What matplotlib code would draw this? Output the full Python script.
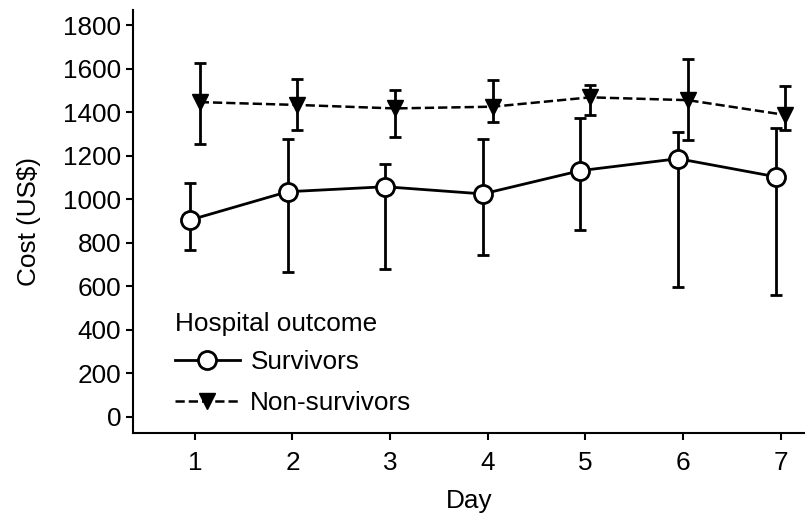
import numpy as np
from matplotlib import pyplot as plt

plt.rcParams['font.family'] = ['Liberation Sans', 'DejaVu Sans']

dias = [1, 2, 3, 4, 5, 6, 7]

# sobrevivientes: media, limite inferior y superior
surv_media = [904, 1034, 1057, 1024, 1131, 1186, 1103]
surv_inf = [767, 667, 681, 742, 859, 595, 560]
surv_sup = [1075, 1276, 1162, 1275, 1373, 1309, 1327]

# no sobrevivientes
nosurv_media = [1446, 1433, 1417, 1425, 1468, 1455, 1387]
nosurv_inf = [1255, 1316, 1287, 1355, 1387, 1270, 1316]
nosurv_sup = [1625, 1552, 1501, 1546, 1527, 1644, 1520]

yticks = [0, 200, 400, 600, 800, 1000, 1200, 1400, 1600, 1800]

fs = 18.8

fig = plt.figure(figsize=(8.05, 5.21), dpi=100)
ax = fig.add_axes([0.165, 0.169, 0.835, 0.812])

x = np.array(dias, dtype=float)
xs = x - 0.05
xn = x + 0.05

s_m = np.array(surv_media)
n_m = np.array(nosurv_media)
err_s = [s_m - np.array(surv_inf), np.array(surv_sup) - s_m]
err_n = [n_m - np.array(nosurv_inf), np.array(nosurv_sup) - n_m]

ax.errorbar(xn, n_m, yerr=err_n, fmt='none', ecolor='black', elinewidth=2,
            capsize=4.2, capthick=2, zorder=2)
ax.errorbar(xs, s_m, yerr=err_s, fmt='none', ecolor='black', elinewidth=2,
            capsize=4.2, capthick=2, zorder=2)

ax.plot(xs, s_m, '-', color='black', lw=2, marker='o', markersize=13,
        markerfacecolor='white', markeredgecolor='black', markeredgewidth=2,
        label='Survivors', zorder=3)
ax.plot(xn, n_m, '--', color='black', lw=1.8, marker='v', markersize=12,
        markerfacecolor='black', markeredgecolor='black',
        label='Non-survivors', zorder=3)

ax.set_xlim(0.365, 7.25)
ax.set_ylim(-75, 1870)
ax.set_xticks(dias)
ax.set_yticks(yticks)
ax.tick_params(axis='both', direction='out', length=5, width=1.5, labelsize=fs,
               color='black')
ax.tick_params(axis='x', pad=8)

for s in ['top', 'right']:
    ax.spines[s].set_visible(False)
for s in ['left', 'bottom']:
    ax.spines[s].set_linewidth(1.5)

ax.set_xlabel('Day', fontsize=fs, labelpad=10)
ax.set_ylabel('Cost (US$)', fontsize=fs, labelpad=16)

leg = ax.legend(loc='lower left', bbox_to_anchor=(0.035, 0.0), frameon=False,
                title='Hospital outcome', fontsize=fs, title_fontsize=fs,
                numpoints=1, handlelength=2.5, handletextpad=0.4,
                labelspacing=0.65, borderpad=0.2)
leg._legend_box.align = 'left'
leg._legend_box.sep = 10

fig.savefig('out.png', dpi=100)
